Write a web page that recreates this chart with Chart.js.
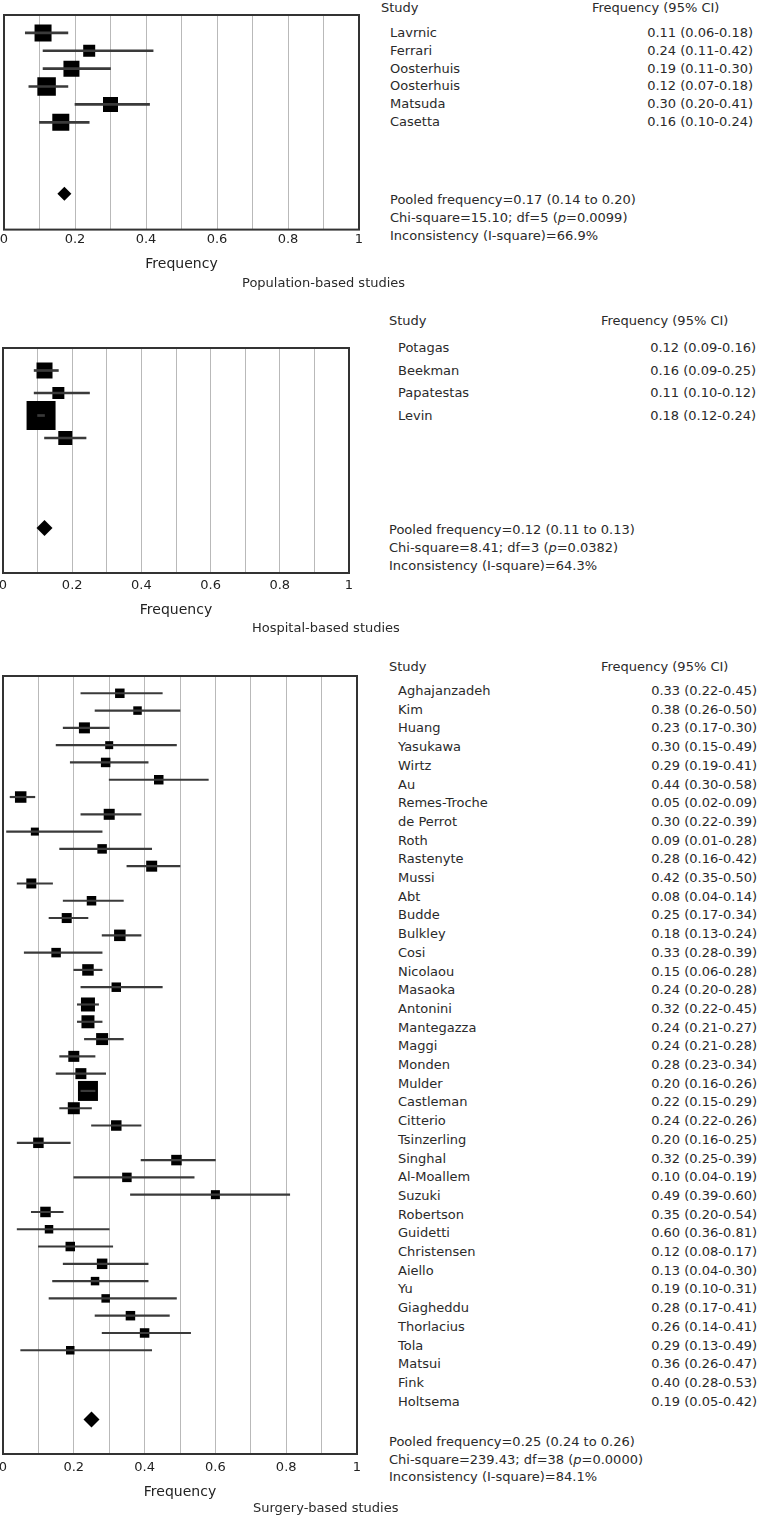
<!DOCTYPE html>
<html>
<head>
<meta charset="utf-8">
<script src="https://cdn.jsdelivr.net/npm/chart.js@4.4.1/dist/chart.umd.min.js"></script>
<style>
  body { margin: 0; background: #fff; overflow: hidden; }
  #page { position: relative; width: 762px; height: 1517px; font-family: "DejaVu Sans", sans-serif; font-size: 13px; color: #2a2a2a; }
  #page canvas { position: absolute; left: 0; }
  .t { position: absolute; white-space: nowrap; line-height: 16px; }
</style>
</head>
<body>
<div id="page">
  <canvas id="popChart" width="380" height="280" style="top:0px"></canvas>
  <canvas id="hospChart" width="380" height="300" style="top:333px"></canvas>
  <canvas id="surgChart" width="380" height="850" style="top:661px"></canvas>
</div>
<script>
// tick labels shared by the three x axes
const xTickLabels = ['0', '0.2', '0.4', '0.6', '0.8', '1'];

// Population-based studies
const popStudy = ['Lavrnic', 'Ferrari', 'Oosterhuis', 'Oosterhuis', 'Matsuda', 'Casetta'];
const popFreq = [0.11, 0.24, 0.19, 0.12, 0.30, 0.16];
const popLow = [0.06, 0.11, 0.11, 0.07, 0.20, 0.10];
const popHigh = [0.18, 0.42, 0.30, 0.18, 0.41, 0.24];
const popWeight = [17, 12, 16, 18.5, 15, 17];
const popPooled = 0.17;
const popStats = ['Pooled frequency=0.17 (0.14 to 0.20)', 'Chi-square=15.10; df=5 (p=0.0099)', 'Inconsistency (I-square)=66.9%'];

// Hospital-based studies
const hospStudy = ['Potagas', 'Beekman', 'Papatestas', 'Levin'];
const hospFreq = [0.12, 0.16, 0.11, 0.18];
const hospLow = [0.09, 0.09, 0.10, 0.12];
const hospHigh = [0.16, 0.25, 0.12, 0.24];
const hospWeight = [16, 12, 29, 14];
const hospPooled = 0.12;
const hospStats = ['Pooled frequency=0.12 (0.11 to 0.13)', 'Chi-square=8.41; df=3 (p=0.0382)', 'Inconsistency (I-square)=64.3%'];

// Surgery-based studies
const surgStudy = ['Aghajanzadeh', 'Kim', 'Huang', 'Yasukawa', 'Wirtz', 'Au', 'Remes-Troche', 'de Perrot', 'Roth',
  'Rastenyte', 'Mussi', 'Abt', 'Budde', 'Bulkley', 'Cosi', 'Nicolaou', 'Masaoka', 'Antonini', 'Mantegazza', 'Maggi',
  'Monden', 'Mulder', 'Castleman', 'Citterio', 'Tsinzerling', 'Singhal', 'Al-Moallem', 'Suzuki', 'Robertson',
  'Guidetti', 'Christensen', 'Aiello', 'Yu', 'Giagheddu', 'Thorlacius', 'Tola', 'Matsui', 'Fink', 'Holtsema'];
const surgFreq = [0.33, 0.38, 0.23, 0.30, 0.29, 0.44, 0.05, 0.30, 0.09, 0.28, 0.42, 0.08, 0.25, 0.18, 0.33, 0.15, 0.24,
  0.32, 0.24, 0.24, 0.28, 0.20, 0.22, 0.24, 0.20, 0.32, 0.10, 0.49, 0.35, 0.60, 0.12, 0.13, 0.19, 0.28, 0.26, 0.29,
  0.36, 0.40, 0.19];
const surgLow = [0.22, 0.26, 0.17, 0.15, 0.19, 0.30, 0.02, 0.22, 0.01, 0.16, 0.35, 0.04, 0.17, 0.13, 0.28, 0.06, 0.20,
  0.22, 0.21, 0.21, 0.23, 0.16, 0.15, 0.22, 0.16, 0.25, 0.04, 0.39, 0.20, 0.36, 0.08, 0.04, 0.10, 0.17, 0.14, 0.13,
  0.26, 0.28, 0.05];
const surgHigh = [0.45, 0.50, 0.30, 0.49, 0.41, 0.58, 0.09, 0.39, 0.28, 0.42, 0.50, 0.14, 0.34, 0.24, 0.39, 0.28, 0.28,
  0.45, 0.27, 0.28, 0.34, 0.26, 0.29, 0.26, 0.25, 0.39, 0.19, 0.60, 0.54, 0.81, 0.17, 0.30, 0.31, 0.41, 0.41, 0.49,
  0.47, 0.53, 0.42];
const surgWeight = [9.5, 8.5, 11, 8, 9.5, 9.5, 11.5, 11, 8, 9.5, 11, 10, 9.5, 10, 11.5, 9.5, 11.5, 9.5, 14, 13, 12, 11,
  11, 20, 12, 10.5, 10.5, 10.5, 9.5, 9, 10.5, 8.5, 9.5, 10.5, 8.5, 8.5, 9.5, 9.5, 8.5];
const surgPooled = 0.25;
const surgStats = ['Pooled frequency=0.25 (0.24 to 0.26)', 'Chi-square=239.43; df=38 (p=0.0000)', 'Inconsistency (I-square)=84.1%'];

const FONT = '"DejaVu Sans", sans-serif';
const page = document.getElementById('page');

// frame round the plot area
const framePlugin = {
  id: 'frame',
  beforeDatasetsDraw(chart) {
    const { ctx, chartArea: a } = chart;
    ctx.save();
    ctx.strokeStyle = '#333';
    ctx.lineWidth = 2;
    ctx.strokeRect(a.left, a.top, a.right - a.left, a.bottom - a.top);
    ctx.restore();
  }
};

function addText(html, x, y, align) {
  const d = document.createElement('div');
  d.className = 't';
  d.innerHTML = html;
  d.style.top = (y - 8) + 'px';
  if (align === 'right') d.style.right = (762 - x) + 'px';
  else d.style.left = x + 'px';
  page.appendChild(d);
}

function makePanel(p) {
  const squares = p.freq.map((f, i) => ({ x: f, y: i + 1 }));
  const ci = p.freq.map((f, i) => ({ y: i + 1, x: [p.low[i], p.high[i]] }));

  new Chart(document.getElementById(p.id), {
    type: 'scatter',
    data: {
      datasets: [
        {
          type: 'bar', indexAxis: 'y', data: ci,
          backgroundColor: '#3a3a3a', borderWidth: 0, barThickness: p.lineW
        },
        {
          data: squares, pointStyle: 'rect',
          pointRadius: p.weight.map(w => w * Math.SQRT1_2),
          backgroundColor: '#000', borderWidth: 0
        },
        {
          data: [{ x: p.pooled, y: p.pooledRow }], pointStyle: 'rectRot',
          pointRadius: p.diamond, backgroundColor: '#000', borderWidth: 0
        }
      ]
    },
    options: {
      responsive: false,
      animation: false,
      events: [],
      layout: { padding: p.pad, autoPadding: false },
      plugins: { legend: { display: false }, tooltip: { enabled: false } },
      scales: {
        x: {
          type: 'linear', min: 0, max: 1, position: 'bottom', offset: false,
          afterFit(s) { s.paddingLeft = 0; s.paddingRight = 0; },
          grid: { color: '#b9b9b9', lineWidth: 1, drawTicks: false, offset: false },
          border: { display: false },
          ticks: {
            stepSize: 0.1, autoSkip: false, maxRotation: 0, padding: p.tickPad,
            color: '#222', font: { family: FONT, size: 13 },
            callback: (v, i) => i % 2 === 0 ? xTickLabels[i / 2] : ''
          },
          title: {
            display: true, text: 'Frequency', color: '#222',
            font: { family: FONT, size: 14 }, padding: { top: p.titlePad, bottom: 0 }
          }
        },
        y: {
          type: 'linear', reverse: true, min: 0, max: p.yMax, display: false,
          offset: false, grid: { offset: false }
        }
      }
    },
    plugins: [framePlugin]
  });

  // table of studies to the right
  const t = p.text;
  addText('Study', t.studyX, t.headY);
  addText('Frequency (95% CI)', t.headX, t.headY);
  p.study.forEach((s, i) => {
    const y = t.rowY + i * t.rowStep;
    addText(s, t.nameX, y);
    addText(p.freq[i].toFixed(2) + ' (' + p.low[i].toFixed(2) + '-' + p.high[i].toFixed(2) + ')', t.valRight, y, 'right');
  });
  p.stats.forEach((s, i) => addText(s.replace('(p=', '(<i>p</i>='), t.statX, t.statY[i]));
  addText(p.caption, t.capX, t.capY);
}

makePanel({
  id: 'popChart', study: popStudy, freq: popFreq, low: popLow, high: popHigh, weight: popWeight,
  pooled: popPooled, pooledRow: 10, yMax: 12, diamond: 7, lineW: 2, stats: popStats,
  caption: 'Population-based studies',
  pad: { left: 4, right: 21, top: 15, bottom: 7 }, tickPad: 2, titlePad: 7,
  text: { studyX: 381, headX: 592, headY: 8, nameX: 390, rowY: 33, rowStep: 17.8, valRight: 753,
          statX: 390, statY: [200, 218, 236], capX: 242, capY: 283 }
});

makePanel({
  id: 'hospChart', study: hospStudy, freq: hospFreq, low: hospLow, high: hospHigh, weight: hospWeight,
  pooled: hospPooled, pooledRow: 8, yMax: 10, diamond: 8, lineW: 2, stats: hospStats,
  caption: 'Hospital-based studies',
  pad: { left: 3, right: 31, top: 15, bottom: 14.6 }, tickPad: 5, titlePad: 3,
  text: { studyX: 389, headX: 601, headY: 321, nameX: 398, rowY: 348, rowStep: 22.6, valRight: 756,
          statX: 389, statY: [530, 548, 566], capX: 252, capY: 628 }
});

makePanel({
  id: 'surgChart', study: surgStudy, freq: surgFreq, low: surgLow, high: surgHigh, weight: surgWeight,
  pooled: surgPooled, pooledRow: 43, yMax: 45, diamond: 8, lineW: 1.5, stats: surgStats,
  caption: 'Surgery-based studies',
  pad: { left: 3, right: 23, top: 15, bottom: 10.6 }, tickPad: 6, titlePad: 2,
  text: { studyX: 389, headX: 601, headY: 667, nameX: 398, rowY: 691, rowStep: 18.7, valRight: 757,
          statX: 389, statY: [1442, 1460, 1477], capX: 253, capY: 1508 }
});
</script>
</body>
</html>
